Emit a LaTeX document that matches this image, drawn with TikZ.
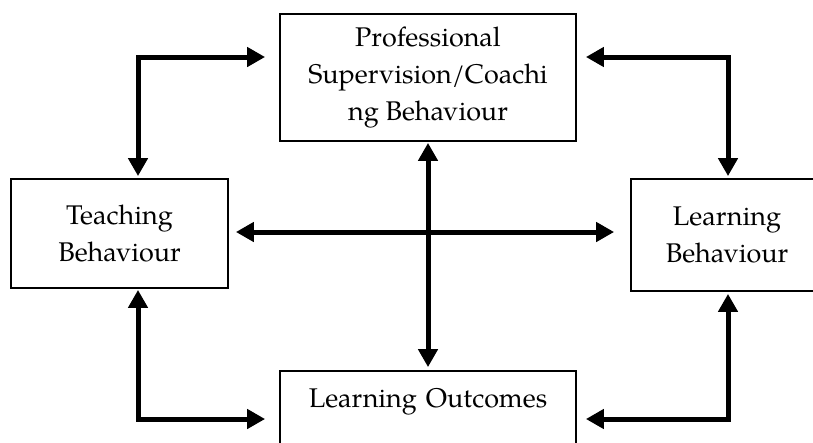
\documentclass[tikz,border=0pt]{standalone}
\usepackage{fontspec}
\setmainfont{TeX Gyre Pagella}
\usetikzlibrary{arrows.meta}
\tikzset{
  box/.style={draw, line width=1.8pt, align=center, inner sep=0pt},
  arr/.style={<->, line width=5pt}
}
\begin{document}
\begin{tikzpicture}[>={Triangle[length=18pt,width=19pt]}, x=1pt, y=-1pt, font=\fontsize{27}{37}\selectfont]
\clip (0,0) rectangle (813,442);
\node[box, minimum width=296pt, minimum height=127pt] (prof) at (428,77.5)
  {Professional\\ Supervision/Coachi\\ ng Behaviour};
\node[box, minimum width=217pt, minimum height=109pt] (teach) at (119.5,233.5)
  {Teaching\\ Behaviour};
\node[box, minimum width=192pt, minimum height=112pt] (learn) at (727,235)
  {Learning\\ Behaviour};
\node[box, anchor=base, text width=296pt, text height=36pt, text depth=60pt] (outc) at (428,407)
  {Learning Outcomes};

    \draw[arr]([xshift=-14pt,yshift=20.5pt]prof.west) -| ([xshift=18.5pt,yshift=2pt]teach.north);
    \draw[arr]([xshift=9pt,yshift=20.5pt]prof.east) -| ([xshift=1pt,yshift=2pt]learn.north);
    \draw[arr]([xshift=18.5pt,yshift=-1pt]teach.south) |- ([xshift=-14pt]outc.west);
    \draw[arr]([xshift=1pt,yshift=-2pt]learn.south) |- ([xshift=9pt]outc.east);
    \draw[arr, shorten <=7pt, shorten >=16pt]([yshift=1.5pt]teach.east) -- ([yshift=1.5pt]teach.east -| learn.west);
    \draw[arr]([yshift=-1pt]prof.south) -- ([yshift=3pt]outc.north);
\end{tikzpicture}
\end{document}
